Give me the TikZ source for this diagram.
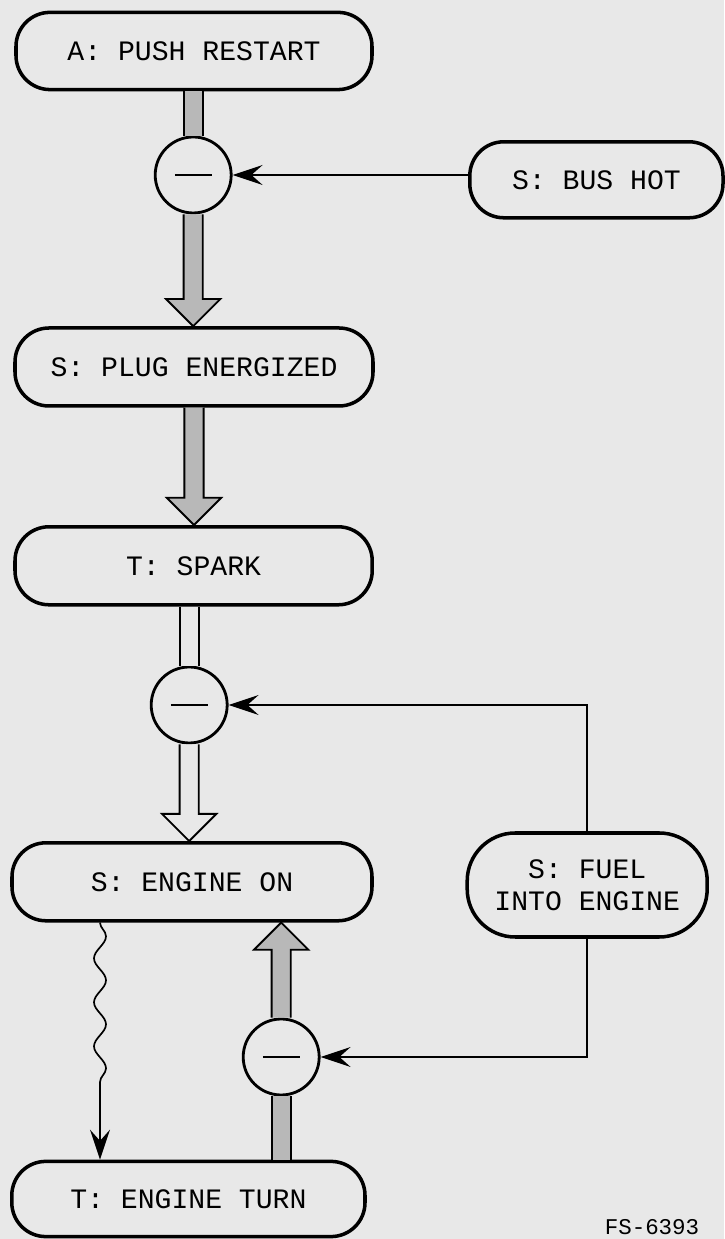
\documentclass[tikz,border=0pt]{standalone}
\usepackage{fontspec}
\setmainfont{Liberation Mono}
\usepackage{tikz}
\usetikzlibrary{calc,arrows.meta,decorations.pathmorphing}
\definecolor{paper}{gray}{0.91}
\definecolor{stipple}{gray}{0.72}

% shaft of a fat arrow, open at both ends
\newcommand{\fatshaft}[3]{%
  \fill[#3] ($(#1)+(-0.24,0)$) rectangle ($(#2)+(0.24,0)$);
  \draw[line width=1.3pt] ($(#1)+(-0.24,0)$) -- ($(#2)+(-0.24,0)$)
                          ($(#1)+(0.24,0)$) -- ($(#2)+(0.24,0)$);}
% fat arrow with head, #4 = 1 for down, -1 for up
\newcommand{\fathead}[4]{%
  \filldraw[fill=#3, line width=1.3pt] ($(#1)+(-0.24,0)$) -- ($(#2)+(-0.24,#4*0.68)$)
    -- ($(#2)+(-0.68,#4*0.68)$) -- (#2) -- ($(#2)+(0.68,#4*0.68)$)
    -- ($(#2)+(0.24,#4*0.68)$) -- ($(#1)+(0.24,0)$);}

\begin{document}
\begin{tikzpicture}[
        statebox/.style={draw, line width=2.5pt, rounded corners=0.85cm, minimum width=8.9cm,
            minimum height=1.93cm, inner sep=0pt, align=center,
            font=\fontsize{20}{23}\selectfont},
        gate/.style={draw, circle, line width=2pt, minimum size=1.9cm, inner sep=0pt, fill=paper},
        wire/.style={line width=1.2pt, -{Stealth[length=0.75cm, width=0.5cm, inset=0.28cm]}}
    ]
        \fill[paper] (0,0) rectangle (18.10,30.975);
        \useasboundingbox (0,0) rectangle (18.10,30.975);

        % Coordinates
        \coordinate (WV) at (2.50, 0.00);
        \node[statebox] (PR) at (4.85, 29.70) {A: PUSH RESTART};
        \node[gate] (G1) at (4.83, 26.60) {};
        \node[statebox, minimum width=6.33cm, minimum height=1.90cm] (BH) at (14.91, 26.48) {S: BUS HOT};
        \node[statebox, minimum width=8.95cm, minimum height=1.95cm] (PE) at (4.85, 21.80) {S: PLUG ENERGIZED};
        \node[statebox, minimum width=8.93cm, minimum height=1.95cm] (SP) at (4.84, 16.83) {T: SPARK};
        \node[gate] (G2) at (4.73, 13.35) {};
        \node[statebox, minimum width=9.00cm, minimum height=1.95cm] (EO) at (4.80, 8.93) {S: ENGINE ON};
        \node[statebox, minimum width=6.00cm, minimum height=2.60cm, rounded corners=1.2cm,
            font=\fontsize{20}{22.7}\selectfont] (FE) at (14.68, 8.85) {S: FUEL\\INTO ENGINE};
        \node[gate] (G3) at (7.03, 4.55) {};
        \node[statebox, minimum width=8.83cm, minimum height=1.88cm] (ET) at (4.71, 1.00) {T: ENGINE TURN};
        \node[font=\fontsize{16}{18}\selectfont] (FS) at (16.30, 0.30) {FS-6393};

        % Drawing
        \fatshaft{G1.north |- PR.south}{G1.north}{stipple}
        \fathead{G1.south}{G1.south |- PE.north}{stipple}{1}
        \fathead{PE.south}{PE.south |- SP.north}{stipple}{1}
        \fatshaft{G2.north |- SP.south}{G2.north}{paper}
        \fathead{G2.south}{G2.south |- EO.north}{paper}{1}
        \fatshaft{G3.south |- ET.north}{G3.south}{stipple}
        \fathead{G3.north}{G3.north |- EO.south}{stipple}{-1}
        \draw[line width=2pt] ($(G1)+(-0.46,0)$) -- ($(G1)+(0.46,0)$);
        \draw[line width=2pt] ($(G2)+(-0.46,0)$) -- ($(G2)+(0.46,0)$);
        \draw[line width=2pt] ($(G3)+(-0.46,0)$) -- ($(G3)+(0.46,0)$);
        \draw[wire] (G1.east -| BH.west) -- (G1.east);
        \draw[wire] (FE.north) |- (G2.east);
        \draw[wire] (FE.south) |- (G3.east);
        \draw[wire, decorate, decoration={snake, amplitude=0.15cm, segment length=1.1cm,
            post length=1.5cm}] (EO.south -| WV) -- (ET.north -| WV);
    \end{tikzpicture}
\end{document}
